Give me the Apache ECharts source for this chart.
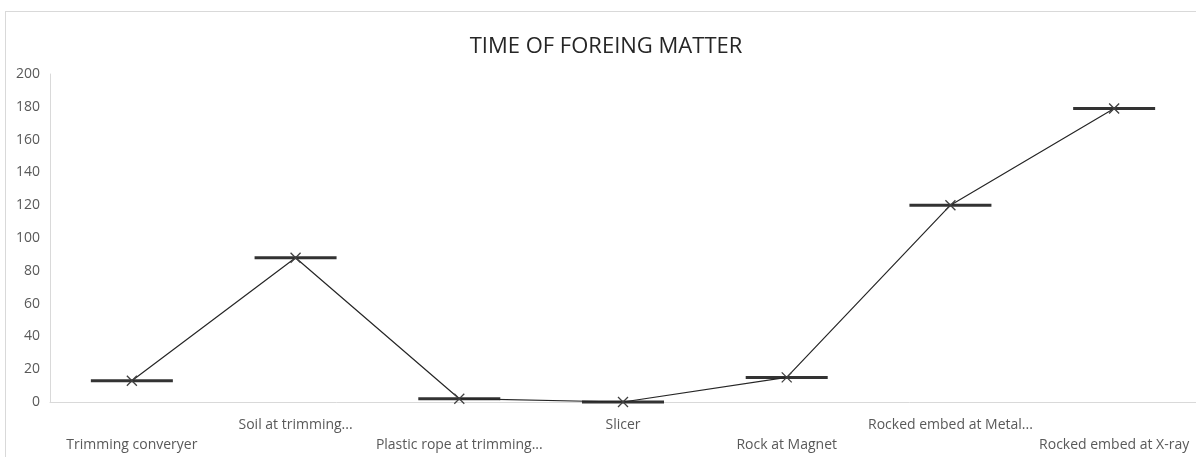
<!DOCTYPE html>
<html>
<head>
<meta charset="utf-8">
<script src="https://cdn.jsdelivr.net/npm/echarts@6/dist/echarts.min.js"></script>
<style>
html,body{margin:0;padding:0;background:#fff;overflow:hidden;}
#frame{position:absolute;left:5px;top:11px;width:1200px;height:460px;border:1px solid #d9d9d9;box-sizing:border-box;}
#chart{position:absolute;left:0;top:0;width:1196px;height:457px;}
</style>
</head>
<body>
<div id="frame"></div>
<div id="chart"></div>
<script>
const titleText = 'TIME OF FOREING MATTER';
const categories = ['Trimming converyer','Soil at trimming...','Plastic rope at trimming...','Slicer','Rock at Magnet','Rocked embed at Metal...','Rocked embed at X-ray'];
const values = [13, 88, 2, 0, 15, 120, 179];
const yTicks = {min: 0, max: 200, interval: 20};

const chart = echarts.init(document.getElementById('chart'), null, {renderer: 'canvas'});
const font = '"Open Sans", "Liberation Sans", sans-serif';
chart.setOption({
  backgroundColor: 'transparent',
  animation: false,
  title: {
    text: titleText,
    left: 601, top: 31, textAlign: 'center',
    textStyle: {fontFamily: font, fontSize: 22, fontWeight: 'normal', color: '#262626'}
  },
  grid: {left: 50, top: 74, width: 1150, height: 328, containLabel: false},
  xAxis: {
    type: 'category',
    data: categories,
    boundaryGap: true,
    axisLine: {lineStyle: {color: '#d9d9d9', width: 1}},
    axisTick: {show: false},
    axisLabel: {
      interval: 0,
      margin: 13,
      fontFamily: font, fontSize: 14, color: '#595959', lineHeight: 20,
      formatter: (v, i) => (i % 2 === 0 ? '\n' : '') + v
    }
  },
  yAxis: {
    type: 'value',
    min: yTicks.min, max: yTicks.max, interval: yTicks.interval,
    axisLine: {show: true, lineStyle: {color: '#d9d9d9', width: 1}},
    axisTick: {show: false},
    splitLine: {show: false},
    axisLabel: {margin: 10, fontFamily: font, fontSize: 14, color: '#595959'}
  },
  series: [
    {
      type: 'scatter',
      data: values,
      symbol: 'rect',
      symbolSize: [82, 3],
      itemStyle: {color: '#333333', opacity: 1},
      z: 2
    },
    {
      type: 'line',
      data: values,
      symbol: 'path://M0,0L10,10M10,0L0,10',
      symbolSize: 10,
      showAllSymbol: true,
      lineStyle: {color: '#262626', width: 1.2},
      itemStyle: {color: '#404040', borderColor: '#404040', borderWidth: 1.3},
      z: 3
    }
  ]
});
</script>
</body>
</html>
